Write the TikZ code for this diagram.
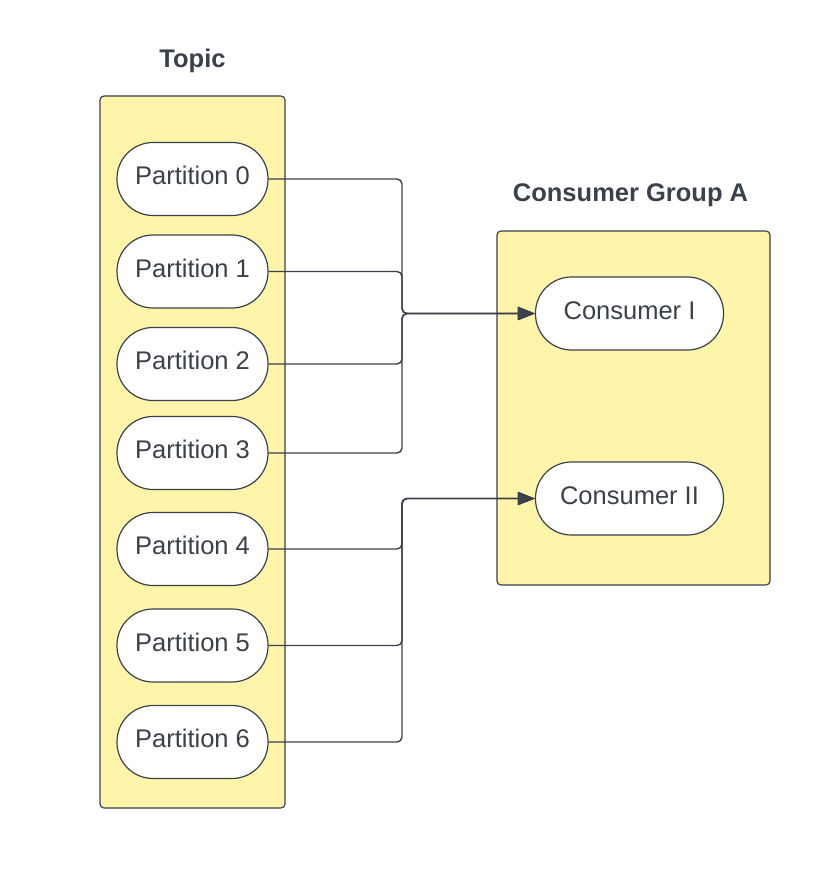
\documentclass[tikz,border=0pt]{standalone}
\usepackage{fontspec}
\setmainfont{Liberation Sans}
\usetikzlibrary{arrows.meta}
\definecolor{ink}{HTML}{3A414A}
\definecolor{pad}{HTML}{FFF5AA}
\tikzset{
  group/.style={draw=ink, fill=pad, line width=1.2pt, rounded corners=4pt},
  pill/.style={draw=ink, fill=white, line width=1.2pt, rounded corners=36pt, minimum height=73pt, text=ink, font=\fontsize{25.5}{30}\selectfont, inner sep=0pt, text height=18.5pt, text depth=7pt},
  title/.style={text=ink, font=\fontsize{25.5}{30}\selectfont\bfseries, anchor=base},
  conn/.style={draw=ink, line width=1.4pt, rounded corners=5pt, -{Triangle[length=17pt,width=13pt]}},
}
\begin{document}
\begin{tikzpicture}[x=1pt,y=-1pt]
\useasboundingbox (0,0) rectangle (828,874);
% groups
\draw[group] (100,96) rectangle (285,808);
\draw[group] (497,231) rectangle (770,585);
\node[title] (ttopic) at (192.5,68) {Topic};
\node[title] (tgroup) at (630.5,202) {Consumer Group A};
% partitions
\foreach \i/\y in {0/179,1/271.5,2/364,3/453,4/549,5/645.5,6/742}{
  \node[pill, minimum width=151pt] (p\i) at (192.5,\y) {Partition \i};
}
% consumers
\node[pill, minimum width=188pt] (c1) at (629.5,313.5) {Consumer I};
\node[pill, minimum width=188pt] (c2) at (629.5,498.5) {Consumer II};
\coordinate (j1) at (402,313.5);
\coordinate (j2) at (402,498.5);
\foreach \i in {0,1,2,3}{
  \draw[conn] (p\i.east) -| (j1) -- (c1.west);
}
\foreach \i in {4,5,6}{
  \draw[conn] (p\i.east) -| (j2) -- (c2.west);
}
\end{tikzpicture}
\end{document}
